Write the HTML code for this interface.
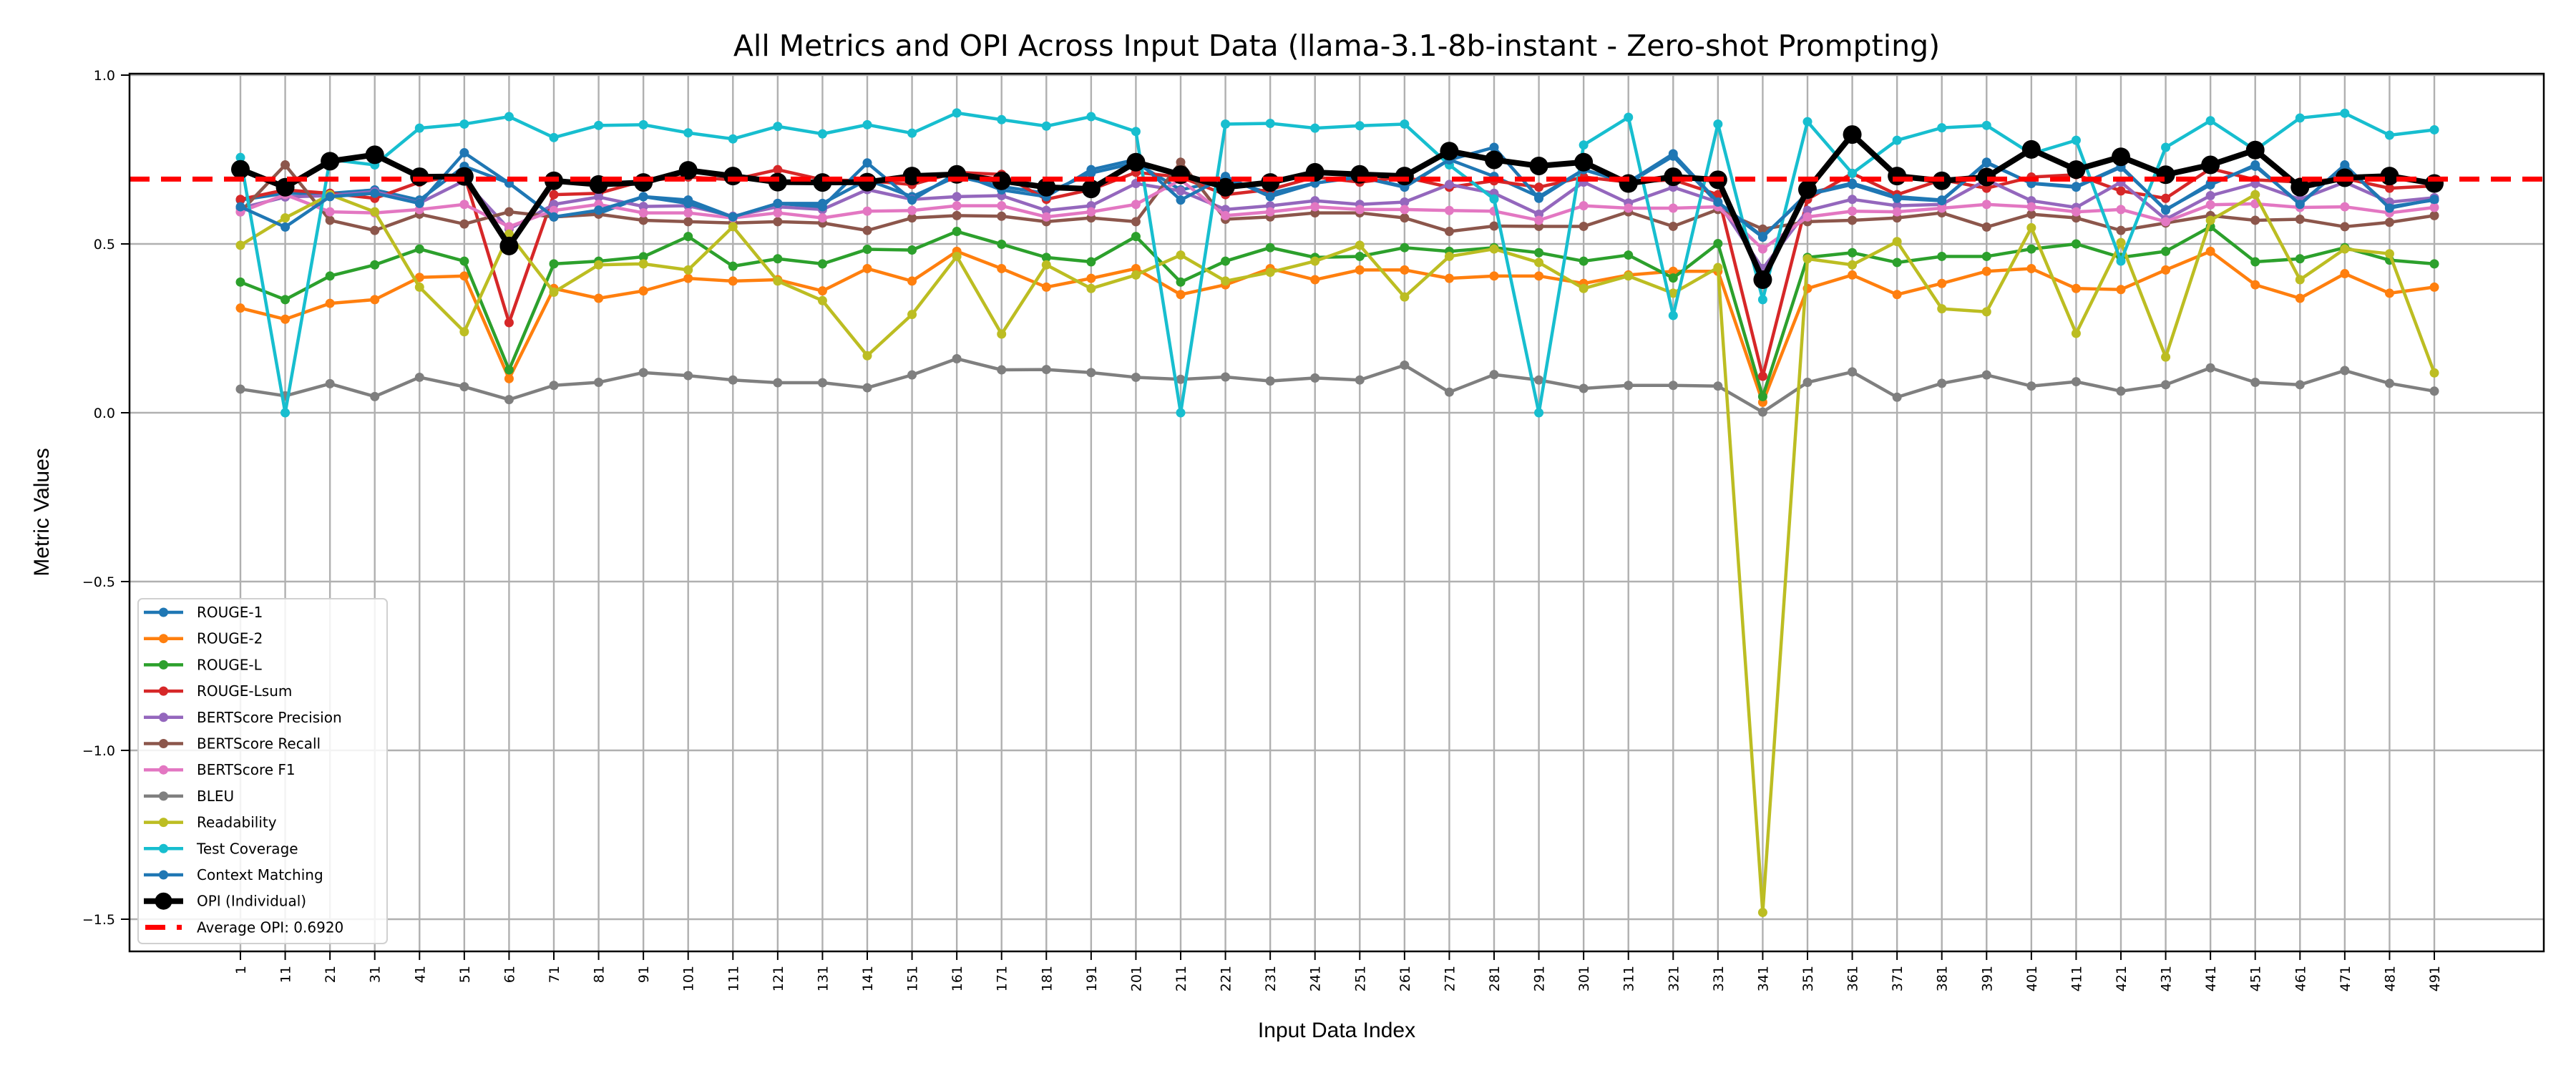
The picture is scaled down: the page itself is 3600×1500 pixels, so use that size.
<!DOCTYPE html>
<html><head><meta charset="utf-8"><style>
html,body{margin:0;padding:0;background:#fff;}
svg{display:block;font-family:"DejaVu Sans","Liberation Sans",sans-serif;}
</style></head><body>
<svg id="chart" width="3600" height="1500" viewBox="0 0 3600 1500" xmlns="http://www.w3.org/2000/svg">
<rect x="0" y="0" width="3600" height="1500" fill="#fff"/>
<text x="1868" y="78" font-size="41" text-anchor="middle">All Metrics and OPI Across Input Data (llama-3.1-8b-instant - Zero-shot Prompting)</text>
<text x="1868" y="1450" font-size="30" font-family="Liberation Sans, sans-serif" text-anchor="middle">Input Data Index</text>
<text transform="translate(68,716) rotate(-90)" font-size="30" font-family="Liberation Sans, sans-serif" text-anchor="middle">Metric Values</text>
<g id="grid"></g><g id="series"></g><g id="axes"></g><g id="legend"></g>
</svg>
<script>
const categories = [1,11,21,31,41,51,61,71,81,91,101,111,121,131,141,151,161,171,181,191,201,211,221,231,241,251,261,271,281,291,301,311,321,331,341,351,361,371,381,391,401,411,421,431,441,451,461,471,481,491];
const yTicks = [1.0,0.5,0.0,-0.5,-1.0,-1.5];
const yTickLabels = ["1.0","0.5","0.0","\u22120.5","\u22121.0","\u22121.5"];
const rouge1 = [.63,.65,.65,.66,.63,.73,.68,.58,.59,.64,.63,.58,.62,.62,.69,.64,.70,.67,.65,.71,.74,.66,.69,.65,.68,.70,.67,.75,.70,.64,.72,.68,.76,.62,.52,.65,.68,.64,.63,.74,.68,.67,.73,.60,.68,.73,.62,.73,.61,.63];
const rouge2 = [.31,.277,.324,.335,.401,.405,.101,.368,.339,.361,.398,.39,.394,.361,.427,.39,.478,.427,.372,.398,.427,.35,.379,.427,.394,.423,.423,.398,.405,.405,.383,.408,.419,.419,.031,.368,.408,.35,.383,.419,.427,.368,.365,.423,.478,.379,.339,.412,.354,.372];
const rougeL = [.387,.335,.405,.438,.485,.449,.127,.441,.449,.462,.522,.434,.456,.441,.484,.482,.537,.499,.46,.447,.522,.387,.449,.489,.46,.463,.489,.478,.489,.474,.449,.467,.399,.501,.048,.46,.474,.445,.463,.463,.485,.5,.46,.478,.551,.447,.456,.489,.452,.441];
const rougeLsum = [.632,.66,.65,.635,.683,.705,.267,.646,.65,.687,.698,.69,.72,.69,.687,.676,.712,.706,.632,.661,.712,.698,.646,.661,.698,.683,.698,.668,.687,.668,.698,.683,.69,.646,.108,.632,.709,.646,.69,.665,.698,.705,.657,.635,.723,.69,.683,.694,.665,.672];
const bertP = [.606,.639,.643,.655,.621,.687,.544,.617,.639,.611,.613,.582,.61,.602,.661,.632,.64,.643,.599,.613,.679,.657,.602,.613,.628,.617,.624,.676,.65,.588,.683,.621,.668,.624,.427,.599,.632,.613,.617,.69,.628,.608,.683,.573,.643,.679,.632,.683,.624,.637];
const bertR = [.595,.734,.57,.54,.588,.559,.595,.58,.588,.57,.566,.562,.566,.562,.54,.577,.584,.582,.566,.577,.566,.742,.573,.58,.592,.592,.577,.537,.553,.552,.552,.595,.552,.602,.544,.566,.57,.577,.592,.55,.588,.577,.54,.562,.584,.57,.573,.551,.564,.584];
const bertF1 = [.595,.646,.595,.592,.602,.617,.551,.599,.617,.592,.592,.577,.592,.577,.597,.599,.613,.613,.58,.595,.617,.69,.584,.595,.61,.602,.602,.599,.597,.57,.613,.606,.606,.61,.485,.58,.597,.595,.606,.617,.61,.595,.602,.566,.616,.619,.608,.61,.592,.608];
const bleu = [.07,.05,.086,.048,.105,.077,.039,.081,.09,.119,.11,.097,.089,.089,.074,.112,.16,.127,.128,.119,.105,.099,.106,.094,.103,.097,.141,.061,.113,.097,.072,.081,.081,.079,.002,.09,.121,.046,.087,.112,.079,.092,.064,.083,.133,.09,.083,.125,.087,.064];
const readability = [.496,.577,.646,.595,.372,.24,.529,.357,.438,.441,.423,.551,.39,.332,.169,.291,.463,.233,.438,.368,.408,.467,.39,.416,.449,.496,.343,.463,.485,.445,.368,.405,.354,.43,-1.48,.456,.438,.507,.308,.299,.548,.235,.504,.165,.57,.646,.394,.485,.471,.118];
const testCoverage = [.756,0,.75,.734,.843,.855,.877,.815,.851,.853,.829,.811,.848,.826,.853,.828,.888,.868,.849,.877,.833,0,.855,.857,.843,.85,.855,.734,.633,0,.793,.875,.288,.855,.335,.862,.709,.807,.844,.851,.767,.807,.449,.786,.865,.778,.873,.887,.822,.838];
const contextMatching = [.61,.55,.64,.65,.62,.77,.68,.58,.60,.64,.62,.58,.62,.61,.74,.63,.71,.66,.64,.72,.75,.63,.70,.64,.68,.698,.668,.749,.786,.635,.72,.683,.767,.624,.522,.646,.676,.635,.628,.742,.679,.668,.727,.602,.675,.734,.617,.734,.606,.632];
const opi = [.721,.668,.745,.764,.699,.700,.494,.687,.676,.682,.718,.701,.683,.682,.683,.701,.706,.687,.668,.663,.742,.705,.668,.682,.712,.706,.701,.775,.749,.731,.742,.679,.699,.69,.394,.661,.824,.701,.687,.698,.78,.72,.758,.705,.734,.778,.668,.696,.701,.679];
const avgOpi = 0.6920;
const seriesNames = ["ROUGE-1","ROUGE-2","ROUGE-L","ROUGE-Lsum","BERTScore Precision","BERTScore Recall","BERTScore F1","BLEU","Readability","Test Coverage","Context Matching"];
const seriesValues = [rouge1,rouge2,rougeL,rougeLsum,bertP,bertR,bertF1,bleu,readability,testCoverage,contextMatching];
const colors = ["#1f77b4","#ff7f0e","#2ca02c","#d62728","#9467bd","#8c564b","#e377c2","#7f7f7f","#bcbd22","#17becf","#1f77b4"];

const NS="http://www.w3.org/2000/svg";
const L=181,R=3555,T=103,B=1330;
function xs(i){return 336+(3402-336)/(categories.length-1)*i;}
function ys(v){return 577-472*v;}
function mk(tag,attrs,parent){const e=document.createElementNS(NS,tag);for(const k in attrs)e.setAttribute(k,attrs[k]);parent.appendChild(e);return e;}
const grid=document.getElementById('grid'),ser=document.getElementById('series'),axes=document.getElementById('axes'),leg=document.getElementById('legend');
categories.forEach((c,i)=>{
  const g=mk('line',{x1:xs(i),x2:xs(i),y1:T,y2:B,stroke:'#b0b0b0','stroke-width':2.4},grid);
  
  
  mk('line',{x1:xs(i),x2:xs(i),y1:B,y2:B+12,stroke:'#000','stroke-width':2},axes);
  const t=mk('text',{transform:`translate(${xs(i)+7},${B+20}) rotate(-90)`,'font-size':19,'text-anchor':'end'},axes);
  t.textContent=c;
  
  
});
yTicks.forEach((v,k)=>{
  const g=mk('line',{x1:L,x2:R,y1:ys(v),y2:ys(v),stroke:'#b0b0b0','stroke-width':2.4},grid);
  
  
  mk('line',{x1:L-12,x2:L,y1:ys(v),y2:ys(v),stroke:'#000','stroke-width':2},axes);
  const t=mk('text',{x:L-20,y:ys(v)+7,'font-size':19,'text-anchor':'end'},axes);
  t.textContent=yTickLabels[k];
  
  
});
const frame=mk('rect',{x:L,y:T,width:R-L,height:B-T,fill:'none',stroke:'#000','stroke-width':2.5},axes);



function drawSeries(vals,color,lw,r,name){
  const g=mk('g',{},ser);
  
  
  mk('polyline',{points:vals.map((v,i)=>xs(i)+','+ys(v)).join(' '),fill:'none',stroke:color,'stroke-width':lw,'stroke-linejoin':'round'},g);
  vals.forEach((v,i)=>{
    const c=mk('circle',{cx:xs(i),cy:ys(v),r:r,fill:color},g);
    
    
  });
}
seriesValues.forEach((vals,k)=>drawSeries(vals,colors[k],4.5,6.5,'series-'+seriesNames[k].toLowerCase().replace(/[^a-z0-9]+/g,'-')));
drawSeries(opi,'#000',8,13,'series-opi');
const avg=mk('line',{x1:L,x2:R,y1:ys(avgOpi),y2:ys(avgOpi),stroke:'#ff0000','stroke-width':7,'stroke-dasharray':'28 16'},ser);



const lb=mk('rect',{x:193,y:837,width:348,height:482,rx:6,fill:'#fff','fill-opacity':0.85,stroke:'#d0d0d0','stroke-width':2},leg);


const entries=seriesNames.map((n,k)=>({n:n,c:colors[k],type:'s'}));
entries.push({n:'OPI (Individual)',c:'#000',type:'o'});
entries.push({n:'Average OPI: 0.6920',c:'#ff0000',type:'d'});
entries.forEach((e,k)=>{
  const y=856+36.7*k;
  const g=mk('g',{},leg);
  
  
  if(e.type==='d'){
    mk('line',{x1:203,x2:254,y1:y,y2:y,stroke:e.c,'stroke-width':7,'stroke-dasharray':'28 16'},g);
  }else{
    mk('line',{x1:201,x2:256,y1:y,y2:y,stroke:e.c,'stroke-width':e.type==='o'?8:4.5},g);
    mk('circle',{cx:228.5,cy:y,r:e.type==='o'?12:6.5,fill:e.c},g);
  }
  const t=mk('text',{x:275,y:y+7,'font-size':20},g);
  t.textContent=e.n;
});
</script>
</body></html>
